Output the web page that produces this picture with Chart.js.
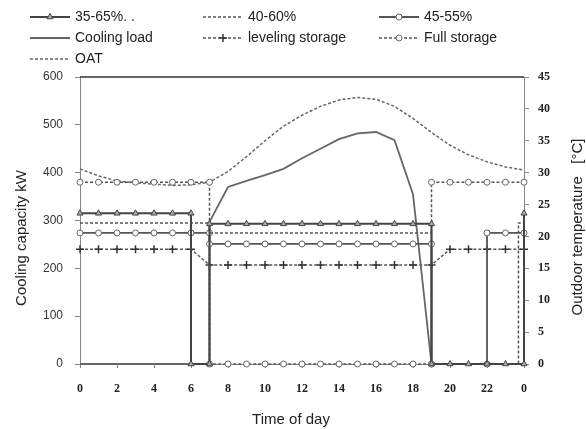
<!DOCTYPE html>
<html lang="en">
<head>
    <meta charset="UTF-8">
    <title>Cooling capacity and outdoor temperature</title>
    <script src="https://cdn.jsdelivr.net/npm/chart.js"></script>
    <style>
        body { margin: 0; background: #fff; }
    </style>
</head>
<body>
    <canvas id="myChart" width="586" height="429"></canvas>
    <script>
        // time of day (hours), repeated x = vertical step
        const x3565 = [0, 1, 2, 3, 4, 5, 6, 6, 7, 7, 8, 9, 10, 11, 12, 13, 14, 15, 16, 17, 18, 19, 19, 20, 21, 22, 23, 24, 24];
        const y3565 = [315, 315, 315, 315, 315, 315, 315, 0, 0, 293, 293, 293, 293, 293, 293, 293, 293, 293, 293, 293, 293, 293, 0, 0, 0, 0, 0, 0, 315];

        const x4060 = [0, 7, 7, 19, 19, 23.7, 23.7, 24];
        const y4060 = [295, 295, 274, 274, 0, 0, 295, 295];

        const x4555 = [0, 1, 2, 3, 4, 5, 6, 7, 7, 8, 9, 10, 11, 12, 13, 14, 15, 16, 17, 18, 19, 19, 22, 22, 23, 24];
        const y4555 = [274, 274, 274, 274, 274, 274, 274, 274, 251, 251, 251, 251, 251, 251, 251, 251, 251, 251, 251, 251, 251, 0, 0, 274, 274, 274];

        const xLoad = [0, 7, 7, 8, 9, 10, 11, 12, 13, 14, 15, 16, 17, 18, 19, 24];
        const yLoad = [0, 0, 297, 370, 383, 395, 408, 430, 450, 470, 482, 485, 468, 355, 0, 0];

        const xLevel = [0, 1, 2, 3, 4, 5, 6, 7, 8, 9, 10, 11, 12, 13, 14, 15, 16, 17, 18, 19, 20, 21, 22, 23, 24];
        const yLevel = [240, 240, 240, 240, 240, 240, 240, 207, 207, 207, 207, 207, 207, 207, 207, 207, 207, 207, 207, 207, 240, 240, 240, 240, 240];

        const xFull = [0, 1, 2, 3, 4, 5, 6, 7, 7, 8, 9, 10, 11, 12, 13, 14, 15, 16, 17, 18, 19, 19, 20, 21, 22, 23, 24];
        const yFull = [380, 380, 380, 380, 380, 380, 380, 380, 0, 0, 0, 0, 0, 0, 0, 0, 0, 0, 0, 0, 0, 380, 380, 380, 380, 380, 380];

        const xOat = [0, 1, 2, 3, 4, 5, 6, 7, 8, 9, 10, 11, 12, 13, 14, 15, 16, 17, 18, 19, 20, 21, 22, 23, 24];
        const yOat = [30.6, 29.5, 28.7, 28.4, 28.2, 28.0, 28.1, 28.5, 30.2, 32.5, 35.0, 37.3, 39.0, 40.4, 41.4, 41.8, 41.5, 40.4, 38.5, 36.3, 34.3, 32.8, 31.7, 30.9, 30.4];

        const seriesLabels = ['35-65%. .', '40-60%', '45-55%', 'Cooling load', 'leveling storage', 'Full storage', 'OAT'];

        const legendCols = [30, 203, 379];
        const legendRows = [17, 38, 59];

        function pts(xs, ys) {
            return xs.map((x, i) => ({ x: x, y: ys[i] }));
        }

        const grey = '#555';
        const dash = [3, 2];

        const datasets = [
            { label: seriesLabels[0], data: pts(x3565, y3565), borderColor: '#444', borderWidth: 2,
              pointStyle: 'triangle', pointRadius: 3.5, pointBackgroundColor: '#aaa', pointBorderColor: '#444', pointBorderWidth: 1 },
            { label: seriesLabels[1], data: pts(x4060, y4060), borderColor: grey, borderWidth: 1.5, borderDash: dash,
              pointRadius: 0 },
            { label: seriesLabels[2], data: pts(x4555, y4555), borderColor: grey, borderWidth: 1.8,
              pointStyle: 'circle', pointRadius: 3, pointBackgroundColor: '#fff', pointBorderColor: '#666', pointBorderWidth: 1 },
            { label: seriesLabels[3], data: pts(xLoad, yLoad), borderColor: '#666', borderWidth: 1.8,
              pointRadius: 0 },
            { label: seriesLabels[4], data: pts(xLevel, yLevel), borderColor: grey, borderWidth: 1.5, borderDash: dash,
              pointStyle: 'cross', pointRadius: 4, pointBorderColor: '#333', pointBorderWidth: 1.5 },
            { label: seriesLabels[5], data: pts(xFull, yFull), borderColor: grey, borderWidth: 1.5, borderDash: dash,
              pointStyle: 'circle', pointRadius: 3, pointBackgroundColor: '#fff', pointBorderColor: '#666', pointBorderWidth: 1 },
            { label: seriesLabels[6], data: pts(xOat, yOat), borderColor: '#666', borderWidth: 1.5, borderDash: dash,
              pointRadius: 0, yAxisID: 'y2' }
        ];
        datasets.forEach(ds => { ds.fill = false; ds.tension = 0; ds.clip = false; });

        // legend, frame line and axis titles drawn by hand to match the layout
        const decorPlugin = {
            id: 'decor',
            afterDraw(chart) {
                const ctx = chart.ctx;
                const area = chart.chartArea;
                ctx.save();
                ctx.strokeStyle = '#333';
                ctx.lineWidth = 1.5;
                ctx.beginPath();
                ctx.moveTo(area.left, area.top);
                ctx.lineTo(area.right, area.top);
                ctx.stroke();

                ctx.font = '14px "Liberation Sans", Arial, sans-serif';
                ctx.textBaseline = 'middle';
                chart.data.datasets.forEach((ds, i) => {
                    const x = legendCols[i % 3];
                    const y = legendRows[Math.floor(i / 3)];
                    ctx.strokeStyle = ds.borderColor;
                    ctx.lineWidth = ds.borderWidth;
                    ctx.setLineDash(ds.borderDash || []);
                    ctx.beginPath();
                    ctx.moveTo(x, y);
                    ctx.lineTo(x + 40, y);
                    ctx.stroke();
                    ctx.setLineDash([]);
                    if (ds.pointRadius > 0) {
                        ctx.fillStyle = ds.pointBackgroundColor || '#fff';
                        ctx.strokeStyle = ds.pointBorderColor;
                        ctx.lineWidth = ds.pointBorderWidth;
                        Chart.helpers.drawPoint(ctx, {
                            pointStyle: ds.pointStyle, radius: ds.pointRadius,
                            rotation: 0, borderWidth: ds.pointBorderWidth
                        }, x + 20, y);
                    }
                    ctx.fillStyle = '#222';
                    ctx.textAlign = 'left';
                    ctx.fillText(ds.label, x + 45, y);
                });

                ctx.font = '15px "Liberation Sans", Arial, sans-serif';
                ctx.fillStyle = '#222';
                ctx.textAlign = 'center';
                ctx.fillText('Time of day', 291, 420);

                ctx.translate(22, 238);
                ctx.rotate(-Math.PI / 2);
                ctx.fillText('Cooling capacity kW', 0, 0);
                ctx.setTransform(1, 0, 0, 1, 0, 0);
                ctx.translate(578, 227);
                ctx.rotate(-Math.PI / 2);
                ctx.fillText('Outdoor temperature   [\u00B0C]', 0, 0);
                ctx.restore();
            }
        };

        const serifTicks = { family: '"Liberation Serif", "Times New Roman", serif', size: 12, weight: 'bold' };

        const ctx = document.getElementById('myChart').getContext('2d');
        const chart = new Chart(ctx, {
            type: 'line',
            data: { datasets: datasets },
            options: {
                responsive: false,
                animation: false,
                layout: { padding: { top: 77, left: 0, right: 0, bottom: 0 } },
                plugins: {
                    legend: { display: false },
                    tooltip: { enabled: false }
                },
                scales: {
                    x: {
                        type: 'linear', min: 0, max: 24,
                        ticks: { stepSize: 2, padding: 14, color: '#222', font: serifTicks,
                                 callback: v => (v === 24 ? '0' : v) },
                        grid: { drawOnChartArea: false, tickLength: 4, color: '#888' },
                        border: { color: '#888', width: 1 },
                        afterFit(scale) { scale.height = 65; }
                    },
                    y: {
                        position: 'left', min: 0, max: 600,
                        ticks: { stepSize: 100, padding: 12, color: '#333',
                                 font: { family: '"Liberation Sans", Arial, sans-serif', size: 12 } },
                        grid: { drawOnChartArea: false, tickLength: 5, color: '#888' },
                        border: { color: '#888', width: 1 },
                        afterFit(scale) { scale.width = 80; }
                    },
                    y2: {
                        position: 'right', min: 0, max: 45,
                        ticks: { stepSize: 5, padding: 9, color: '#222', font: serifTicks },
                        grid: { drawOnChartArea: false, tickLength: 5, color: '#888' },
                        border: { color: '#888', width: 1 },
                        afterFit(scale) { scale.width = 62; }
                    }
                }
            },
            plugins: [decorPlugin]
        });
    </script>
</body>
</html>
